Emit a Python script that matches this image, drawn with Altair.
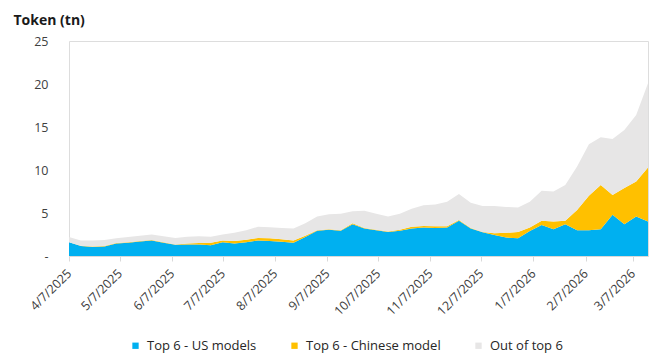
import altair as alt
import pandas as pd

# Weekly token volume (trillions), by model group
weeks = [
    "2025-04-07", "2025-04-14", "2025-04-21", "2025-04-28",
    "2025-05-05", "2025-05-12", "2025-05-19", "2025-05-26",
    "2025-06-02", "2025-06-09", "2025-06-16", "2025-06-23", "2025-06-30",
    "2025-07-07", "2025-07-14", "2025-07-21", "2025-07-28",
    "2025-08-04", "2025-08-11", "2025-08-18", "2025-08-25",
    "2025-09-01", "2025-09-08", "2025-09-15", "2025-09-22", "2025-09-29",
    "2025-10-06", "2025-10-13", "2025-10-20", "2025-10-27",
    "2025-11-03", "2025-11-10", "2025-11-17", "2025-11-24",
    "2025-12-01", "2025-12-08", "2025-12-15", "2025-12-22", "2025-12-29",
    "2026-01-05", "2026-01-12", "2026-01-19", "2026-01-26",
    "2026-02-02", "2026-02-09", "2026-02-16", "2026-02-23",
    "2026-03-02", "2026-03-09", "2026-03-16",
]

us_models = [
    1.6, 1.15, 1.05, 1.1, 1.45, 1.55, 1.7, 1.8, 1.55, 1.3,
    1.35, 1.35, 1.25, 1.6, 1.45, 1.6, 1.8, 1.75, 1.65, 1.55,
    2.2, 2.95, 3.05, 2.95, 3.7, 3.2, 3.0, 2.8, 2.95, 3.2,
    3.3, 3.25, 3.3, 4.1, 3.2, 2.75, 2.45, 2.15, 2.05, 2.9,
    3.6, 3.1, 3.7, 3.0, 3.0, 3.1, 4.8, 3.7, 4.6, 4.0,
]

chinese_model = [
    0.0, 0.05, 0.05, 0.05, 0.05, 0.05, 0.05, 0.05, 0.05, 0.05,
    0.1, 0.15, 0.3, 0.2, 0.3, 0.3, 0.3, 0.3, 0.3, 0.25,
    0.15, 0.05, 0.05, 0.05, 0.1, 0.05, 0.05, 0.05, 0.1, 0.2,
    0.2, 0.2, 0.15, 0.1, 0.05, 0.05, 0.2, 0.55, 0.75, 0.4,
    0.5, 0.9, 0.4, 2.35, 4.0, 5.15, 2.3, 4.2, 4.05, 6.3,
]

out_of_top6 = [
    0.6, 0.6, 0.7, 0.7, 0.55, 0.6, 0.6, 0.65, 0.7, 0.75,
    0.8, 0.8, 0.7, 0.7, 0.95, 1.1, 1.3, 1.3, 1.3, 1.4,
    1.45, 1.6, 1.75, 1.9, 1.4, 2.0, 1.85, 1.75, 1.85, 2.1,
    2.4, 2.55, 2.85, 3.0, 2.95, 3.0, 3.15, 3.0, 2.85, 3.0,
    3.5, 3.5, 4.15, 5.05, 6.0, 5.55, 6.5, 6.75, 7.75, 9.8,
]

series_names = ["Top 6 - US models", "Top 6 - Chinese model", "Out of top 6"]
series_colors = ["#00B0F0", "#FFC000", "#E7E6E6"]
series_values = [us_models, chinese_model, out_of_top6]

rows = []
for order, (name, vals) in enumerate(zip(series_names, series_values)):
    for wk, v in zip(weeks, vals):
        rows.append({"week": wk + "T00:00:00", "group": name, "tokens": v, "order": order})
df = pd.DataFrame(rows)

month_ticks = [
    alt.DateTime(year=y, month=m, date=7)
    for (y, m) in [(2025, 4), (2025, 5), (2025, 6), (2025, 7), (2025, 8), (2025, 9),
                   (2025, 10), (2025, 11), (2025, 12), (2026, 1), (2026, 2), (2026, 3)]
]

FONT = "Open Sans"
LABEL_COLOR = "#404040"

chart = (
    alt.Chart(df)
    .mark_area(interpolate="linear")
    .encode(
        x=alt.X(
            "week:T",
            scale=alt.Scale(
                domain=[alt.DateTime(year=2025, month=4, date=7),
                        alt.DateTime(year=2026, month=3, date=16)],
                nice=False,
            ),
            axis=alt.Axis(
                title=None,
                values=month_ticks,
                format="%-m/%-d/%Y",
                labelAngle=-45,
                labelAlign="right",
                labelBaseline="middle",
                labelPadding=10,
                labelFont=FONT,
                labelFontSize=12.5,
                labelColor=LABEL_COLOR,
                labelOverlap=False,
                domainColor="#D9D9D9",
                tickColor="#D9D9D9",
                tickSize=5,
                grid=False,
            ),
        ),
        y=alt.Y(
            "tokens:Q",
            stack="zero",
            scale=alt.Scale(domain=[0, 25], nice=False),
            axis=alt.Axis(
                values=[0, 5, 10, 15, 20, 25],
                labelExpr="datum.value == 0 ? '-' : datum.label",
                labelFont=FONT,
                labelFontSize=12.5,
                labelColor=LABEL_COLOR,
                labelPadding=21,
                domain=False,
                ticks=False,
                grid=False,
                title="Token (tn)",
                titleAngle=0,
                titleAlign="left",
                titleBaseline="middle",
                titleX=-56,
                titleY=-21,
                titleFont=FONT,
                titleFontSize=14,
                titleFontWeight="bold",
                titleColor="#1a1a1a",
            ),
        ),
        color=alt.Color(
            "group:N",
            scale=alt.Scale(domain=series_names, range=series_colors),
            legend=alt.Legend(
                title=None,
                orient="none",
                direction="horizontal",
                legendX=60,
                legendY=298,
                symbolType="square",
                symbolSize=40,
                symbolStrokeWidth=0,
                labelFont=FONT,
                labelFontSize=13,
                labelColor="#262626",
                columnPadding=31,
                labelOffset=5,
            ),
        ),
        order=alt.Order("order:Q", sort="ascending"),
    )
    .properties(
        width=579,
        height=215,
        padding={"left": 69, "top": 41, "right": 4, "bottom": 98},
        autosize=alt.AutoSizeParams(type="none"),
    )
    .configure_view(stroke=None)
    .configure(background="white")
)

chart.save("out.html", embed_options={"renderer": "svg", "actions": False})
